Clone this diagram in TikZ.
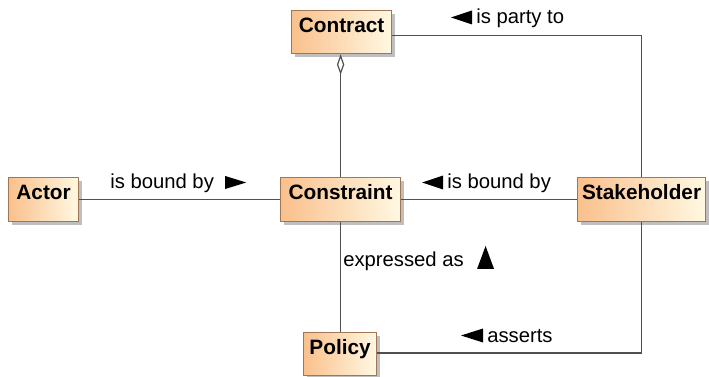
\documentclass[tikz,border=0pt]{standalone}
\usepackage{fontspec}
\setmainfont{Liberation Sans}
\usetikzlibrary{arrows.meta,shadows}
\definecolor{boxleft}{RGB}{250,192,140}
\definecolor{boxright}{RGB}{255,248,226}
\definecolor{boxedge}{RGB}{160,118,86}
\definecolor{wire}{RGB}{80,80,80}
\tikzset{
  classbox/.style={draw=boxedge, line width=0.9pt, shading=axis,
    left color=boxleft, right color=boxright, shading angle=90,
    inner xsep=3pt, inner ysep=3pt, text height=13.5pt,
    text depth=#1, font=\fontsize{15.6}{18}\selectfont\bfseries,
    drop shadow={shadow xshift=2.2pt, shadow yshift=-2.2pt,
      fill=black, opacity=0.25}},
  assoc/.style={draw=wire, line width=1.1pt},
  rolelabel/.style={anchor=base west, inner sep=0pt,
    font=\fontsize{15.2}{18}\selectfont},
  dirmark/.style={fill=black}
}
\begin{document}
\begin{tikzpicture}[x=0.75pt,y=-0.75pt]
  \useasboundingbox (0,0) rectangle (709,377);

  % classes
  \node[classbox=12.75pt, minimum width=75pt, anchor=north west] (contract) at (291,10) {Contract};
  \node[classbox=13.5pt, minimum width=52.5pt, anchor=north west] (actor) at (8,177) {Actor};
  \node[classbox=13.5pt, minimum width=90pt, anchor=north west] (constraint) at (280,177) {Constraint};
  \node[classbox=13.5pt, minimum width=96pt, anchor=north west] (stakeholder) at (577,177) {Stakeholder};
  \node[classbox=12.75pt, minimum width=54.75pt, anchor=north west] (policy) at (303,332) {Policy};

  % associations
  \draw[assoc] ([yshift=-2.4pt]contract.east) -| (stakeholder.north);
  \draw[assoc] (actor.east) -- (constraint.west);
  \draw[assoc] (constraint.east) -- (stakeholder.west);
  \draw[assoc, {Diamond[open, length=15.5pt, width=5.5pt, line width=0.9pt]}-]
    (contract.south -| constraint.north) -- (constraint.north);
  \draw[assoc] (constraint.south) -- (constraint.south |- policy.north);
  \draw[assoc] ([yshift=1pt]policy.east) -| (stakeholder.south);

  % association names with reading direction
  \node[rolelabel] (lbActor) at (110,189) {is bound by};
  \fill[dirmark] (lbActor.base east) ++(11,-13) -- ++(21,6.5) -- ++(-21,6.5) -- cycle;

  \node[rolelabel] (lbStake) at (447,189) {is bound by};
  \fill[dirmark] (lbStake.base west) ++(-4,-13.5) -- ++(-21,7) -- ++(21,7) -- cycle;

  \node[rolelabel] (lbParty) at (476,24) {is party to};
  \fill[dirmark] (lbParty.base west) ++(-4,-13.5) -- ++(-21,7) -- ++(21,7) -- cycle;

  \node[rolelabel] (lbExpr) at (343,267) {expressed as};
  \fill[dirmark] (lbExpr.base east) ++(13,2) -- ++(8.5,-23) -- ++(8.5,23) -- cycle;

  \node[rolelabel] (lbAssert) at (487,342) {asserts};
  \fill[dirmark] (lbAssert.base west) ++(-4,-13.5) -- ++(-22,7) -- ++(22,7) -- cycle;
\end{tikzpicture}
\end{document}
